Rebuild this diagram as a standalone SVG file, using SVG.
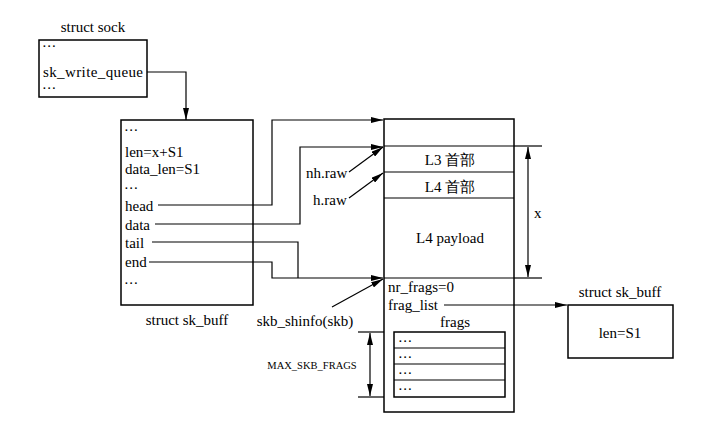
<svg xmlns="http://www.w3.org/2000/svg" width="717" height="430" viewBox="0 0 717 430">
<defs>
<marker id="ah" viewBox="0 0 12 6" refX="12" refY="3" markerWidth="12" markerHeight="6" markerUnits="userSpaceOnUse" orient="auto-start-reverse">
<path d="M0,0 L12,3 L0,6 Z" fill="#000"/>
</marker>
</defs>
<style>
text{font-family:"Liberation Serif","Times New Roman",serif;font-size:15px;fill:#000}
.c{text-anchor:middle}
.sm{font-size:10.5px}
.dt{font-size:11px;letter-spacing:2px;font-weight:bold}
.box{fill:none;stroke:#000;stroke-width:1.5}
.ln{fill:none;stroke:#000;stroke-width:1.2}
.arr{fill:none;stroke:#000;stroke-width:1.2;marker-end:url(#ah)}
.dim{fill:none;stroke:#000;stroke-width:1.2;marker-start:url(#ah);marker-end:url(#ah)}
</style>
<rect width="717" height="430" fill="#fff"/>

<g id="sock">
<text class="c" x="93" y="32">struct sock</text>
<rect class="box" x="39" y="40" width="108" height="57"/>
<text class="dt" x="43" y="47">...</text>
<text x="43" y="77" textLength="100" lengthAdjust="spacing">sk_write_queue</text>
<text class="dt" x="43" y="89">...</text>
</g>

<g id="skbuff">
<rect class="box" x="121" y="120" width="132" height="185"/>
<text class="dt" x="125" y="131">...</text>
<text x="125" y="157">len=x+S1</text>
<text x="125" y="174">data_len=S1</text>
<text class="dt" x="125" y="189">...</text>
<text x="125" y="211">head</text>
<text x="125" y="230">data</text>
<text x="125" y="248">tail</text>
<text x="125" y="267">end</text>
<text class="dt" x="125" y="284">...</text>
<text class="c" x="187" y="325">struct sk_buff</text>
</g>

<g id="buffer">
<rect class="box" x="384" y="119" width="130" height="293"/>
<line class="ln" x1="384" y1="146" x2="514" y2="146"/>
<line class="ln" x1="384" y1="172" x2="514" y2="172"/>
<line class="ln" x1="384" y1="198" x2="514" y2="198"/>
<line class="ln" x1="384" y1="278" x2="514" y2="278"/>
<text class="c" x="450" y="165">L3 首部</text>
<text class="c" x="450" y="192">L4 首部</text>
<text class="c" x="450" y="243">L4 payload</text>
<text x="388" y="292">nr_frags=0</text>
<text x="388" y="310">frag_list</text>
<text class="c" x="455" y="327">frags</text>
</g>

<g id="frags">
<rect class="box" x="394" y="332" width="111" height="65"/>
<line class="ln" x1="394" y1="348" x2="505" y2="348"/>
<line class="ln" x1="394" y1="364" x2="505" y2="364"/>
<line class="ln" x1="394" y1="380" x2="505" y2="380"/>
<text class="dt" x="399" y="342">...</text>
<text class="dt" x="399" y="358">...</text>
<text class="dt" x="399" y="374">...</text>
<text class="dt" x="399" y="390">...</text>
</g>

<g id="skbuff2">
<text class="c" x="620" y="297">struct sk_buff</text>
<rect class="box" x="568" y="305" width="105" height="53"/>
<text class="c" x="620" y="338">len=S1</text>
</g>

<g id="labels">
<text x="306" y="178">nh.raw</text>
<text x="313" y="205">h.raw</text>
<text class="c" x="305" y="326">skb_shinfo(skb)</text>
<text class="c sm" x="312" y="369">MAX_SKB_FRAGS</text>
<text x="534" y="218">x</text>
</g>

<g id="connectors">
<polyline class="arr" points="147,72 186,72 186,120"/>
<polyline class="arr" points="158,205 272,205 272,120 383,120"/>
<polyline class="arr" points="155,224 300,224 300,147 383,147"/>
<polyline class="ln" points="152,242 298,242 298,278"/>
<polyline class="arr" points="149,262 272,262 272,278 383,278"/>
<line class="arr" x1="349" y1="172" x2="383" y2="147"/>
<line class="arr" x1="349" y1="198" x2="383" y2="173"/>
<line class="arr" x1="332" y1="307" x2="383" y2="279"/>
<line class="arr" x1="444" y1="305" x2="567" y2="305"/>
<line class="ln" x1="514" y1="146" x2="542" y2="146"/>
<line class="ln" x1="514" y1="278" x2="542" y2="278"/>
<line class="dim" x1="528" y1="147" x2="528" y2="277"/>
<line class="ln" x1="358" y1="332" x2="384" y2="332"/>
<line class="ln" x1="358" y1="397" x2="384" y2="397"/>
<line class="dim" x1="370" y1="333" x2="370" y2="396"/>
</g>
</svg>
